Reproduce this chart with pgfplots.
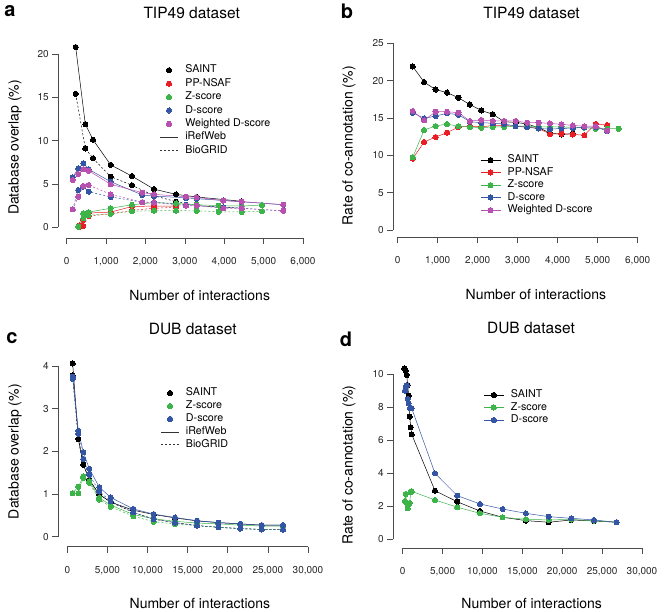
\documentclass[border=0pt]{standalone}
\usepackage{fontspec}
\setmainfont{TeX Gyre Heros}
\usepackage{pgfplots}
\pgfplotsset{compat=1.18}
\definecolor{cS}{RGB}{0,0,0}
\definecolor{cR}{RGB}{232,30,36}
\definecolor{cG}{RGB}{60,180,74}
\definecolor{cB}{RGB}{52,84,164}
\definecolor{cM}{RGB}{184,80,176}
\pgfplotsset{
  rax/.style={
    scale only axis, axis lines=left, clip=false,
    axis line style={-, black!70, line width=0.6pt},
    tick align=outside, major tick length=6pt,
    tick style={black!70, line width=0.6pt},
    tick label style={font=\fontsize{10}{12}\selectfont, text=black!85},
    xticklabel style={yshift=-10pt},
    /pgf/number format/assume math mode=true,
    /pgf/number format/1000 sep={,},
    scaled ticks=false,
    title style={font=\fontsize{15.5}{18}\selectfont, anchor=center},
    label style={font=\fontsize{14}{16}\selectfont},
    legend cell align=left,
    legend style={draw=none, fill=none, inner sep=0pt, outer sep=0pt, anchor=north west,
      font=\fontsize{10.7}{12}\selectfont, column sep=5.5pt, row sep=0pt,
      nodes={inner sep=1.4pt, text height=7.6pt, text depth=1.9pt}},
  },
  dot/.style={mark=*, mark size=2.6pt, mark options={solid, draw=#1, fill=#1, line width=0pt}},
  irw/.style={color=#1, line width=0.5pt, solid, dot=#1},
  bio/.style={color=#1, line width=0.5pt, dash pattern=on 2pt off 2pt, dot=#1},
  ln/.style={color=#1, line width=0.5pt, solid, dot=#1},
}
\begin{document}
\begin{tikzpicture}
\useasboundingbox (0,0) rectangle (665pt,612pt);
\node[font=\fontsize{20}{22}\selectfont\bfseries] at (10pt,601pt) {a};
\node[font=\fontsize{20}{22}\selectfont\bfseries] at (347pt,601pt) {b};
\node[font=\fontsize{20}{22}\selectfont\bfseries] at (12pt,274pt) {c};
\node[font=\fontsize{20}{22}\selectfont\bfseries] at (346pt,273pt) {d};

% ---------------- panel a
\begin{axis}[rax, at={(66.7pt,384.7pt)}, anchor=south west, width=236.3pt, height=173.3pt,
  xmin=0, xmax=6000, ymin=0, ymax=20, xtick={0,1000,...,6000}, ytick={0,5,...,20},
  axis x line shift=11pt, axis y line shift=8.4pt,
  title={TIP49 dataset}, title style={at={(axis description cs:0.529,1.202)}},
  xlabel={Number of interactions}, xlabel style={at={(axis description cs:0.563,-0.391)}, anchor=center},
  ylabel={Database overlap (\%)}, ylabel style={at={(axis description cs:-0.219,0.46)}, anchor=center},
  legend style={at={(axis description cs:0.393,0.945)}, nodes={inner sep=1.4pt, text height=8pt, text depth=2.6pt}},
  legend image code/.code={\draw[mark repeat=2,mark phase=2,#1] plot coordinates {(0pt,0pt) (9.2pt,0pt) (18.4pt,0pt)};},
]
\addplot[irw=cS, forget plot] coordinates {(228,20.8)(473,11.9)(668,10.1)(1117,7.2)(1658,5.9)(2217,4.4)(2776,3.8)(3300,3.5)(4444,3.0)};
\addplot[bio=cS, forget plot] coordinates {(228,15.4)(473,9.1)(668,7.96)(1117,5.84)(1658,4.85)(2217,3.65)(2776,2.96)(3300,2.5)(4444,2.2)};
\addplot[irw=cR, forget plot] coordinates {(330,0.2)(422,0.85)(558,1.65)(1117,1.75)(1658,2.4)(2217,2.45)(2776,2.45)};
\addplot[bio=cR, forget plot] coordinates {(330,0.05)(422,0.15)(558,1.3)(1117,1.55)(1658,1.95)(2217,2.2)(2776,2.3)};
\addplot[irw=cG, forget plot] coordinates {(295,0.1)(422,1.6)(558,1.75)(1117,2.2)(1658,2.6)(2217,2.85)(2776,2.75)(3300,2.6)(3858,2.5)(4444,2.45)(4960,2.57)};
\addplot[bio=cG, forget plot] coordinates {(295,0.05)(422,1.05)(558,1.4)(1117,1.55)(1658,1.85)(2217,1.92)(2776,1.92)(3300,1.9)(3858,1.8)(4444,1.77)(4960,1.85)};
\addplot[irw=cB, forget plot] coordinates {(152,5.77)(295,6.8)(422,7.39)(558,6.69)(1117,5.26)(1920,3.73)(2217,3.6)(3029,3.4)(3300,3.3)(3976,3.1)(4444,2.95)(5500,2.6)};
\addplot[bio=cB, forget plot] coordinates {(152,2.1)(295,4.3)(422,4.69)(558,4.11)(1117,3.5)(1920,2.9)(2217,2.9)(3029,2.6)(3300,2.5)(3976,2.3)(4444,2.2)(5500,1.9)};
\addplot[irw=cM, forget plot] coordinates {(152,5.46)(295,6.15)(422,6.69)(558,6.53)(1117,4.96)(1920,4.0)(2217,3.8)(3029,3.53)(3300,3.46)(3976,3.07)(4444,2.96)(5500,2.61)};
\addplot[bio=cM, forget plot] coordinates {(152,2.07)(295,3.53)(422,4.77)(558,4.88)(1117,3.8)(1920,2.88)(2217,2.85)(3029,2.5)(3300,2.5)(3976,2.19)(4444,2.19)(5500,1.9)};
\addlegendimage{only marks, dot=cS}\addlegendentry{SAINT}
\addlegendimage{only marks, dot=cR}\addlegendentry{PP-NSAF}
\addlegendimage{only marks, dot=cG}\addlegendentry{Z-score}
\addlegendimage{only marks, dot=cB}\addlegendentry{D-score}
\addlegendimage{only marks, dot=cM}\addlegendentry{Weighted D-score}
\addlegendimage{black!80, line width=0.5pt, solid}\addlegendentry{iRefWeb}
\addlegendimage{black!80, line width=0.5pt, dash pattern=on 2pt off 2pt}\addlegendentry{BioGRID}
\end{axis}

% ---------------- panel b
\begin{axis}[rax, at={(397.7pt,382pt)}, anchor=south west, width=240pt, height=186.7pt,
  xmin=0, xmax=6000, ymin=0, ymax=25, xtick={0,1000,...,6000}, ytick={0,5,...,25},
  axis x line shift=7.3pt, axis y line shift=4.4pt,
  title={TIP49 dataset}, title style={at={(axis description cs:0.558,1.130)}},
  xlabel={Number of interactions}, xlabel style={at={(axis description cs:0.576,-0.348)}, anchor=center},
  ylabel={Rate of co-annotation (\%)}, ylabel style={at={(axis description cs:-0.203,0.451)}, anchor=center},
  legend style={at={(axis description cs:0.344,0.408)}, nodes={inner sep=1.4pt, text height=7.6pt, text depth=2.1pt}},
  legend image code/.code={\draw[mark repeat=2,mark phase=2,#1] plot coordinates {(0pt,0pt) (10pt,0pt) (20pt,0pt)};},
]
\addplot[ln=cS] coordinates {(375,21.9)(661,19.8)(947,18.8)(1233,18.4)(1519,17.7)(1805,16.8)(2091,16.0)(2377,15.5)(2663,14.5)(2949,14.4)(3235,14.2)(3521,13.7)(3807,13.0)(4093,12.8)(4379,12.9)};
\addlegendentry{SAINT}
\addplot[ln=cR] coordinates {(375,9.55)(661,11.78)(947,12.45)(1233,13.03)(1519,13.79)(1805,13.9)(2091,13.8)(2377,14.0)(2663,14.0)(2949,13.9)(3235,13.8)(3521,13.6)(3807,12.85)(4093,12.9)(4379,12.8)(4665,12.7)(4951,14.2)(5237,14.05)};
\addlegendentry{PP-NSAF}
\addplot[ln=cG] coordinates {(375,9.73)(661,13.39)(947,13.92)(1233,14.19)(1519,13.9)(1805,13.8)(2091,13.7)(2377,13.8)(2663,13.8)(2949,13.9)(3235,13.9)(3521,13.8)(3807,13.8)(4093,13.8)(4379,13.75)(4665,13.7)(4951,13.56)(5237,13.56)(5523,13.56)};
\addlegendentry{Z-score}
\addplot[ln=cB] coordinates {(375,15.7)(661,14.95)(947,15.26)(1233,15.62)(1519,15.44)(1805,14.5)(2091,14.37)(2377,14.3)(2663,14.2)(2949,13.9)(3235,13.75)(3521,13.6)(3807,13.5)(4093,13.6)(4379,13.65)(4665,13.75)(4951,13.8)(5237,13.25)};
\addlegendentry{D-score}
\addplot[ln=cM] coordinates {(375,15.93)(661,14.68)(947,15.84)(1233,15.84)(1519,15.7)(1805,14.6)(2091,14.73)(2377,14.6)(2663,14.6)(2949,14.6)(3235,14.37)(3521,14.37)(3807,14.28)(4093,14.15)(4379,14.0)(4665,13.9)(4951,13.9)(5237,13.3)};
\addlegendentry{Weighted D-score}
\end{axis}

% ---------------- panel c
\begin{axis}[rax, at={(67.3pt,75.3pt)}, anchor=south west, width=240.7pt, height=170.7pt,
  xmin=0, xmax=30000, ymin=0, ymax=4, xtick={0,5000,...,30000}, ytick={0,1,...,4},
  axis x line shift=10pt, axis y line shift=9pt,
  title={DUB dataset}, title style={at={(axis description cs:0.521,1.182)}},
  xlabel={Number of interactions}, xlabel style={at={(axis description cs:0.551,-0.39)}, anchor=center},
  ylabel={Database overlap (\%)}, ylabel style={at={(axis description cs:-0.217,0.498)}, anchor=center},
  legend style={at={(axis description cs:0.39,0.879)}, nodes={inner sep=1.4pt, text height=7.8pt, text depth=2.3pt}},
  legend image code/.code={\draw[mark repeat=2,mark phase=2,#1] plot coordinates {(0pt,0pt) (8.7pt,0pt) (17.4pt,0pt)};},
]
\addplot[irw=cS, forget plot] coordinates {(669,4.06)(1375,2.29)(1998,1.69)(2746,1.33)(3992,0.99)(5405,0.81)(8230,0.62)(10766,0.52)(13424,0.44)(16166,0.37)(18825,0.33)(21567,0.3)(24226,0.27)(26885,0.27)};
\addplot[bio=cS, forget plot] coordinates {(669,3.78)(1375,2.29)(1998,1.69)(2746,1.33)(3992,0.99)(5405,0.81)(8230,0.57)(10766,0.41)(13424,0.33)(16166,0.26)(18825,0.22)(21567,0.19)(24226,0.17)(26885,0.165)};
\addplot[irw=cG, forget plot] coordinates {(669,1.02)(1375,1.17)(1998,1.41)(2746,1.3)(3992,0.91)(5405,0.74)(8230,0.52)(10766,0.42)(13424,0.36)(16166,0.32)(18825,0.3)(21567,0.27)(24226,0.25)(26885,0.25)};
\addplot[bio=cG, forget plot] coordinates {(669,1.02)(1375,1.02)(1998,1.38)(2746,1.26)(3992,0.87)(5405,0.7)(8230,0.48)(10766,0.35)(13424,0.3)(16166,0.26)(18825,0.22)(21567,0.19)(24226,0.17)(26885,0.165)};
\addplot[irw=cB, forget plot] coordinates {(669,3.75)(1375,2.48)(1998,1.98)(2746,1.59)(3992,1.16)(5405,0.92)(8230,0.65)(10766,0.53)(13424,0.45)(16166,0.375)(18825,0.33)(21567,0.3)(24226,0.27)(26885,0.27)};
\addplot[bio=cB, forget plot] coordinates {(669,3.7)(1375,2.41)(1998,1.82)(2746,1.45)(3992,1.06)(5405,0.83)(8230,0.57)(10766,0.41)(13424,0.33)(16166,0.26)(18825,0.22)(21567,0.19)(24226,0.17)(26885,0.165)};
\addlegendimage{only marks, dot=cS}\addlegendentry{SAINT}
\addlegendimage{only marks, dot=cG}\addlegendentry{Z-score}
\addlegendimage{only marks, dot=cB}\addlegendentry{D-score}
\addlegendimage{black!80, line width=0.5pt, solid}\addlegendentry{iRefWeb}
\addlegendimage{black!80, line width=0.5pt, dash pattern=on 2pt off 2pt}\addlegendentry{BioGRID}
\end{axis}

% ---------------- panel d
\begin{axis}[rax, at={(402.7pt,72.7pt)}, anchor=south west, width=239.3pt, height=165.3pt,
  xmin=0, xmax=30000, ymin=0, ymax=10, xtick={0,5000,...,30000}, ytick={0,2,...,10},
  axis x line shift=8.7pt, axis y line shift=9.4pt,
  title={DUB dataset}, title style={at={(axis description cs:0.536,1.240)}},
  xlabel={Number of interactions}, xlabel style={at={(axis description cs:0.539,-0.388)}, anchor=center},
  ylabel={Rate of co-annotation (\%)}, ylabel style={at={(axis description cs:-0.224,0.449)}, anchor=center},
  legend style={at={(axis description cs:0.338,0.911)}, nodes={inner sep=1.4pt, text height=7.6pt, text depth=2.1pt}},
  legend image code/.code={\draw[mark repeat=2,mark phase=2,#1] plot coordinates {(0pt,0pt) (10pt,0pt) (20pt,0pt)};},
]
\addplot[ln=cS] coordinates {(200,10.34)(376,10.2)(500,9.94)(627,9.33)(752,8.69)(877,7.42)(1003,6.78)(1128,6.35)(4048,2.94)(6842,2.27)(9687,1.71)(12531,1.33)(15451,1.13)(18296,1.03)(21128,1.17)(23972,1.11)(26817,1.03)};
\addlegendentry{SAINT}
\addplot[ln=cG] coordinates {(288,2.3)(376,2.74)(500,2.2)(627,1.87)(752,2.1)(877,2.2)(1003,2.85)(1128,2.9)(4048,2.38)(6842,1.94)(9687,1.57)(12531,1.33)(15451,1.21)(18296,1.17)(21128,1.2)(23972,1.12)(26817,1.03)};
\addlegendentry{Z-score}
\addplot[ln=cB] coordinates {(288,8.99)(376,9.2)(500,9.3)(627,8.49)(752,8.23)(915,7.93)(1128,7.93)(4048,3.99)(6842,2.64)(9687,2.14)(12531,1.83)(15451,1.57)(18296,1.37)(21128,1.27)(23972,1.17)(26817,1.03)};
\addlegendentry{D-score}
\end{axis}
\end{tikzpicture}
\end{document}
